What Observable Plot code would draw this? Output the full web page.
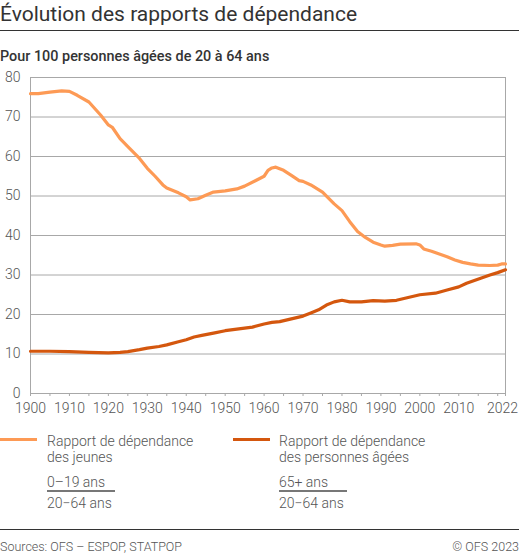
<!DOCTYPE html>
<html>
<head>
<meta charset="utf-8">
<script src="https://cdn.jsdelivr.net/npm/d3@7"></script>
<script src="https://cdn.jsdelivr.net/npm/@observablehq/plot@0.6"></script>
<style>
  html, body { margin: 0; padding: 0; background: #fff; }
  body { width: 519px; height: 554px; position: relative; font-family: Roboto, "Noto Sans", sans-serif; color: #555; overflow: hidden; }
  .abs { position: absolute; white-space: nowrap; }
  #title { left: 0; top: 2px; font-size: 21px; color: #333; font-weight: 400; line-height: 25px; }
  .rule { position: absolute; left: 0; width: 519px; height: 1px; background: #333; }
  #subtitle { left: 0; top: 49px; font-size: 14.4px; font-weight: 500; color: #333; line-height: 16px; }
  #chart { position: absolute; left: 0; top: 68px; }
  .t { position: absolute; white-space: nowrap; font-size: 14px; font-weight: 300; color: #555; line-height: 16px; }
  .sw { position: absolute; height: 3px; width: 37px; }
  .uline { position: absolute; height: 1.5px; width: 68px; background: #777; }
  .foot { position: absolute; top: 540px; font-size: 12.5px; font-weight: 300; color: #555; line-height: 14px; white-space: nowrap; }
</style>
</head>
<body>
<div id="title" class="abs">Évolution des rapports de dépendance</div>
<div class="rule" style="top:30px"></div>
<div id="subtitle" class="abs">Pour 100 personnes âgées de 20 à 64 ans</div>
<div id="chart"></div>

<div class="sw" style="left:0;top:438px;background:#fd9a55"></div>
<div class="t" style="left:47px;top:433px">Rapport de dépendance<br>des jeunes</div>
<div class="t" style="left:47px;top:474px">0–19 ans</div>
<div class="uline" style="left:47px;top:490px"></div>
<div class="t" style="left:47px;top:495px">20−64 ans</div>

<div class="sw" style="left:233px;top:438px;background:#d4570e"></div>
<div class="t" style="left:279px;top:433px">Rapport de dépendance<br>des personnes âgées</div>
<div class="t" style="left:279px;top:474px">65+ ans</div>
<div class="uline" style="left:279px;top:490px"></div>
<div class="t" style="left:279px;top:495px">20−64 ans</div>

<div class="rule" style="top:529px"></div>
<div class="foot" style="left:0">Sources: OFS – ESPOP, STATPOP</div>
<div class="foot" style="right:0">© OFS 2023</div>

<script>
// Rapport de dépendance des jeunes (0–19 / 20–64)
const youngYears  = [1900,1902,1905,1908,1910,1912,1915,1918,1920,1921,1923,1925,1928,1930,1932,1934,1935,1938,1940,1941,1943,1945,1947,1950,1953,1955,1958,1960,1961,1962,1963,1965,1967,1969,1970,1972,1975,1978,1980,1982,1984,1986,1988,1990,1991,1993,1995,1999,2000,2001,2003,2005,2007,2009,2011,2013,2015,2018,2020,2021,2022];
const youngValues = [75.9,75.9,76.3,76.6,76.5,75.5,73.8,70.5,68.0,67.4,64.5,62.5,59.5,57.0,55.0,52.8,52.0,50.8,49.8,49.0,49.3,50.2,51.0,51.3,51.8,52.5,54.0,55.0,56.5,57.1,57.3,56.5,55.2,53.9,53.7,52.8,51.0,48.0,46.3,43.5,41.0,39.5,38.3,37.6,37.3,37.5,37.8,37.9,37.6,36.6,36.0,35.3,34.6,33.8,33.2,32.8,32.5,32.4,32.5,32.8,32.8];

// Rapport de dépendance des personnes âgées (65+ / 20–64)
const oldYears  = [1900,1905,1910,1915,1920,1923,1925,1928,1930,1933,1935,1938,1940,1942,1944,1947,1950,1953,1957,1960,1962,1964,1967,1970,1972,1974,1976,1978,1980,1982,1985,1988,1991,1994,1997,2000,2004,2007,2010,2012,2014,2016,2018,2020,2022];
const oldValues = [10.7,10.7,10.6,10.4,10.3,10.4,10.6,11.1,11.5,11.9,12.3,13.1,13.6,14.3,14.7,15.3,15.9,16.3,16.8,17.6,18.0,18.2,18.9,19.6,20.4,21.2,22.4,23.2,23.6,23.2,23.2,23.5,23.4,23.6,24.3,25.0,25.4,26.2,27.0,27.9,28.6,29.3,30.0,30.6,31.3];

const yTicks = [0,10,20,30,40,50,60,70,80];
const xLabelTicks = [1900,1910,1920,1930,1940,1950,1960,1970,1980,1990,2000,2010];
const xLastTick = [2022];
const xMinorTicks = d3.range(1900, 2021, 5).concat([2022]);

const young = youngYears.map((year, i) => ({year, value: youngValues[i]}));
const old = oldYears.map((year, i) => ({year, value: oldValues[i]}));

const chart = Plot.plot({
  width: 519,
  height: 352,
  marginLeft: 30,
  marginRight: 14,
  marginTop: 9,
  marginBottom: 27,
  style: {fontFamily: "Roboto, sans-serif", fontSize: "14px", fontWeight: 300, color: "#555", background: "#fff"},
  x: {domain: [1900, 2022], axis: null},
  y: {domain: [0, 80], axis: null},
  marks: [
    Plot.gridY(yTicks, {stroke: "#a8a8a8", strokeOpacity: 1, strokeWidth: 1}),
    Plot.ruleX([1900, 2022], {stroke: "#a8a8a8", strokeWidth: 1}),
    Plot.axisX(xMinorTicks, {tickSize: 3, tickFormat: () => "", stroke: "#a8a8a8", label: null}),
    Plot.axisX(xLabelTicks, {tickSize: 0, tickPadding: 10, tickFormat: d => String(d), fill: "#555", fontSize: 14, label: null}),
    Plot.axisX(xLastTick, {tickSize: 0, tickPadding: 10, tickFormat: d => String(d), fill: "#555", fontSize: 14, label: null, dx: -3}),
    Plot.axisY(yTicks, {tickSize: 0, tickPadding: 10, fill: "#555", fontSize: 14, label: null}),
    Plot.line(young, {x: "year", y: "value", stroke: "#fd9a55", strokeWidth: 3.2, strokeLinejoin: "round"}),
    Plot.line(old, {x: "year", y: "value", stroke: "#d4570e", strokeWidth: 3.2, strokeLinejoin: "round"})
  ]
});
document.getElementById("chart").appendChild(chart);
</script>
</body>
</html>
